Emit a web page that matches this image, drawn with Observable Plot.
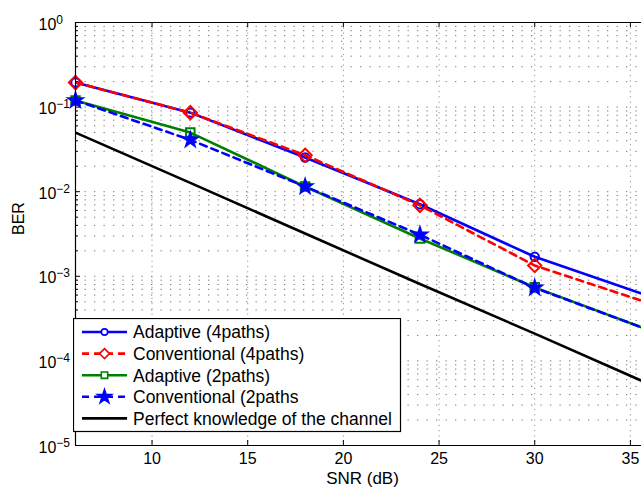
<!DOCTYPE html>
<html><head><meta charset="utf-8">
<script src="https://cdn.jsdelivr.net/npm/d3@7"></script>
<script src="https://cdn.jsdelivr.net/npm/@observablehq/plot@0.6"></script>
<style>
html,body{margin:0;padding:0;background:#fff;overflow:hidden}
#wrap{position:relative;width:641px;height:494px;font-family:"Liberation Sans",Arial,Helvetica,sans-serif}
#legend{position:absolute;left:73px;top:318px}
</style></head><body><div id="wrap"></div>
<script>
// ---- data ----
const snr = [6, 12, 18, 24, 30, 36];
const adaptive4 = [0.195, 0.086, 0.0254, 0.0071, 0.0017, 0.00058];
const conventional4 = [0.195, 0.086, 0.027, 0.0069, 0.00134, 0.00048];
const adaptive2 = [0.12, 0.05, 0.0115, 0.0028, 0.00074, 0.00023];
const conventional2 = [0.12, 0.041, 0.0115, 0.0031, 0.00073, 0.00023];
const perfect = [0.05, 0.0127, 0.0032, 0.00081, 0.00021, 0.000053];
const seriesNames = ["Adaptive (4paths)", "Conventional (4paths)", "Adaptive (2paths)", "Conventional (2paths", "Perfect knowledge of the channel"];
const xTicks = [10, 15, 20, 25, 30, 35];
const yTicks = [1e0, 1e-1, 1e-2, 1e-3, 1e-4, 1e-5];
const yTickExponents = ["0", "−1", "−2", "−3", "−4", "−5"];

// ---- styles ----
const styles = [
  {stroke: "#0000ff", dash: null, symbol: "circle", r: 4.2, fill: "none"},
  {stroke: "#ff0000", dash: "7,5", symbol: "diamond2", r: 6, fill: "none"},
  {stroke: "#008000", dash: null, symbol: "square", r: 4.8, fill: "none"},
  {stroke: "#0000ff", dash: "7,5", symbol: "star", r: 4.4, fill: "#0000ff"},
  {stroke: "#000000", dash: null, symbol: null}
];
const seriesValues = [adaptive4, conventional4, adaptive2, conventional2, perfect];
const table = seriesValues.map(vals => snr.map((x, i) => ({x, y: vals[i]})));

const gridY = [];
for (let e = -5; e < 0; e++) for (let k = 1; k < 10; k++) gridY.push(k * Math.pow(10, e));
gridY.push(1);
const minorY = gridY.filter(v => !yTicks.includes(v));

const W = 641, H = 494, mL = 75, mT = 22, mB = 49;
const innerH = H - mT - mB;

const marks = [
  Plot.ruleY(gridY, {y: d => d, stroke: "#777", strokeDasharray: "1.3,8.2", strokeWidth: 1}),
  Plot.ruleX(xTicks, {x: d => d, stroke: "#999", strokeDasharray: "1.3,4", strokeWidth: 1}),
];
[0, 1, 2, 3, 4].forEach(i => {
  const s = styles[i];
  marks.push(Plot.line(table[i], {x: "x", y: "y", stroke: s.stroke, strokeWidth: 2.6, strokeDasharray: s.dash, clip: true}));
  if (s.symbol) marks.push(Plot.dot(table[i], {x: "x", y: "y", symbol: () => s.symbol, r: s.r, stroke: s.stroke, fill: s.fill, strokeWidth: 2}));
});
marks.push(
  Plot.ruleX([6], {x: d => d, stroke: "#000", strokeWidth: 1.2}),
  Plot.ruleY([1e-5, 1], {y: d => d, stroke: "#000", strokeWidth: 1.2}),
  Plot.tickX(xTicks, {x: d => d, insetTop: innerH - 5, stroke: "#000"}),
  Plot.tickX(xTicks, {x: d => d, insetBottom: innerH - 5, stroke: "#000"}),
  Plot.tickY(yTicks, {y: d => d, insetRight: W - mL - 5, stroke: "#000"}),
  Plot.tickY(minorY, {y: d => d, insetRight: W - mL - 3, stroke: "#000"}),
  Plot.text(yTicks, {y: d => d, text: () => "10", className: "ylab", frameAnchor: "left", dx: -37, dy: 2, textAnchor: "start", fontSize: 16, fill: "#000"}),
  Plot.text(["BER"], {text: d => d, frameAnchor: "left", dx: -57, dy: 1, rotate: -90, fontSize: 16, fill: "#000"}),
  Plot.text(["SNR (dB)"], {text: d => d, frameAnchor: "bottom", dy: 38.5, dx: 4, fontSize: 17, fill: "#000"}),
  Plot.axisX(xTicks, {tickSize: 0, tickPadding: 7, fontSize: 16, color: "#000", label: null})
);

const chart = Plot.plot({
  width: W, height: H,
  marginLeft: mL, marginRight: 0, marginTop: mT, marginBottom: mB,
  style: {fontFamily: '"Liberation Sans", Arial, Helvetica, sans-serif', background: "#fff", color: "#000"},
  x: {domain: [6, 35.58], ticks: xTicks},
  y: {type: "log", domain: [1e-5, 1], axis: null},
  marks
});
// superscript exponents for the y tick labels
d3.select(chart).selectAll(".ylab text").each(function(d, i) {
  d3.select(this).append("tspan").attr("dy", "-0.5em").attr("font-size", 12).text(yTickExponents[i]);
});
const wrap = document.getElementById("wrap");
wrap.appendChild(chart);

// ---- legend overlay ----
const lg = d3.select(wrap).append("svg").attr("id", "legend").attr("width", 329).attr("height", 115);
lg.append("rect").attr("x", 0.5).attr("y", 0.5).attr("width", 327).attr("height", 113).attr("fill", "#fff").attr("stroke", "#000").attr("stroke-width", 1.2);
const rowH = 21.6;
const symMap = {circle: d3.symbolCircle, diamond2: d3.symbolDiamond2, square: d3.symbolSquare, star: d3.symbolStar};
seriesNames.forEach((name, i) => {
  const s = styles[i];
  const cy = 14 + i * rowH;
  const g = lg.append("g");
  g.append("line").attr("x1", 9).attr("x2", 54).attr("y1", cy).attr("y2", cy)
    .attr("stroke", s.stroke).attr("stroke-width", 2.6).attr("stroke-dasharray", s.dash);
  if (s.symbol) {
    const size = s.symbol === "star" ? 60 : Math.PI * (s.r * 0.75) ** 2;
    g.append("path").attr("transform", `translate(31.5,${cy})`)
      .attr("d", d3.symbol(symMap[s.symbol], size)())
      .attr("fill", s.symbol === "star" ? s.fill : "#fff").attr("stroke", s.stroke).attr("stroke-width", 1.6);
  }
  g.append("text").attr("x", 60).attr("y", cy).attr("dy", "0.36em")
    .attr("font-size", 17.5).attr("font-family", '"Liberation Sans", Arial, sans-serif').attr("fill", "#000").text(name);
});
</script></body></html>
